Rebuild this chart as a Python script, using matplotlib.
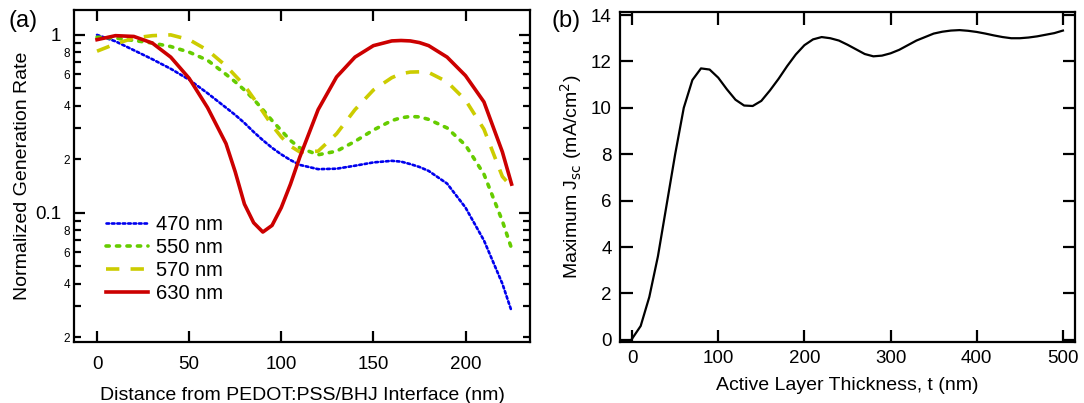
import matplotlib
matplotlib.use("Agg")
import matplotlib.pyplot as plt
from matplotlib.ticker import FixedLocator, FixedFormatter

plt.rcParams['font.family'] = ['Liberation Sans', 'DejaVu Sans']

# ---------------- data: panel (a) ----------------
distance_nm = [0, 10, 20, 30, 40, 50, 60, 70, 75, 80, 85, 90, 95, 100, 105, 110,
               120, 130, 140, 150, 160, 165, 170, 175, 180, 190, 200, 210, 220, 225]
gen_470 = [1.0, 0.92, 0.82, 0.73, 0.645, 0.56, 0.47, 0.39, 0.355, 0.32, 0.285, 0.256,
           0.232, 0.213, 0.198, 0.186, 0.176, 0.177, 0.184, 0.192, 0.196, 0.194, 0.188,
           0.181, 0.172, 0.146, 0.107, 0.07, 0.04, 0.028]
gen_550 = [0.97, 0.96, 0.93, 0.90, 0.86, 0.80, 0.72, 0.60, 0.545, 0.49, 0.435, 0.38,
           0.33, 0.29, 0.255, 0.232, 0.212, 0.222, 0.252, 0.292, 0.33, 0.342, 0.348,
           0.346, 0.335, 0.30, 0.24, 0.165, 0.09, 0.063]
gen_570 = [0.81, 0.89, 0.96, 0.99, 1.0, 0.94, 0.82, 0.67, 0.59, 0.52, 0.44, 0.37,
           0.31, 0.267, 0.237, 0.22, 0.222, 0.278, 0.38, 0.49, 0.575, 0.605, 0.618,
           0.62, 0.615, 0.545, 0.43, 0.295, 0.16, 0.14]
gen_630 = [0.94, 0.99, 0.98, 0.90, 0.75, 0.57, 0.39, 0.245, 0.17, 0.112, 0.088, 0.078,
           0.085, 0.107, 0.145, 0.205, 0.38, 0.58, 0.75, 0.87, 0.925, 0.93, 0.925,
           0.905, 0.87, 0.75, 0.59, 0.42, 0.22, 0.145]
series_labels = ["470 nm", "550 nm", "570 nm", "630 nm"]

# ---------------- data: panel (b) ----------------
thickness_nm = list(range(0, 501, 10))
jsc_max = [0.05, 0.6, 1.85, 3.6, 5.8, 8.0, 10.0, 11.2, 11.7, 11.65, 11.3, 10.8, 10.35,
           10.1, 10.08, 10.3, 10.75, 11.25, 11.8, 12.3, 12.7, 12.95, 13.05, 13.0, 12.9,
           12.72, 12.52, 12.32, 12.22, 12.25, 12.35, 12.5, 12.7, 12.9, 13.05, 13.2,
           13.28, 13.33, 13.35, 13.32, 13.27, 13.2, 13.12, 13.05, 13.0, 13.0, 13.03,
           13.08, 13.15, 13.22, 13.33]

W, H = 1084, 403
fig = plt.figure(figsize=(W / 100, H / 100), dpi=100)

TICK_FS = 13.5
LAB_FS = 14


def px_axes(l, t, r, b):
    return fig.add_axes([l / W, 1 - b / H, (r - l) / W, (b - t) / H])


# ---------------- panel (a) ----------------
ax = px_axes(74, 10, 530, 342)
ax.plot(distance_nm, gen_470, color='#0000ee', lw=1.9, linestyle=(0, (1, 1.05)),
        dash_capstyle='round', label=series_labels[0])
ax.plot(distance_nm, gen_550, color='#66cc00', lw=2.6, linestyle=(0, (0.9, 2.0)),
        dash_capstyle='round', label=series_labels[1])
ax.plot(distance_nm, gen_570, color='#cccc00', lw=2.6, linestyle=(0, (3.7, 3.1)),
        label=series_labels[2])
ax.plot(distance_nm, gen_630, color='#cc0000', lw=2.6, linestyle='-',
        label=series_labels[3])
ax.set_yscale('log')
ax.set_xlim(-12.5, 235)
ax.set_ylim(0.0188, 1.38)
ax.set_xticks([0, 50, 100, 150, 200])
ax.yaxis.set_major_locator(FixedLocator([0.1, 1]))
ax.yaxis.set_major_formatter(FixedFormatter(["0.1", "1"]))
minor_vals = [0.02, 0.03, 0.04, 0.05, 0.06, 0.07, 0.08, 0.09,
              0.2, 0.3, 0.4, 0.5, 0.6, 0.7, 0.8, 0.9]
minor_labs = ["2", "", "4", "", "6", "", "8", "",
              "2", "", "4", "", "6", "", "8", ""]
ax.yaxis.set_minor_locator(FixedLocator(minor_vals))
ax.yaxis.set_minor_formatter(FixedFormatter(minor_labs))
ax.xaxis.set_minor_locator(FixedLocator([]))
ax.tick_params(axis='both', which='major', direction='in', top=True, right=True,
               length=8, width=1.6, labelsize=TICK_FS)
ax.tick_params(axis='y', which='major', pad=9)
ax.tick_params(axis='x', which='major', pad=10)
ax.tick_params(axis='y', which='minor', direction='in', right=True, length=5,
               width=1.6, labelsize=8.5, pad=3)
for s in ax.spines.values():
    s.set_linewidth(1.6)
ax.set_xlabel("Distance from PEDOT:PSS/BHJ Interface (nm)", fontsize=LAB_FS, labelpad=10)
ax.set_ylabel("Normalized Generation Rate", fontsize=LAB_FS, labelpad=3)
leg = ax.legend(loc='upper left', bbox_to_anchor=(106 / W, 1 - 215 / H),
                bbox_transform=fig.transFigure, frameon=False, fontsize=14.5,
                handlelength=2.1, handletextpad=0.4, labelspacing=0.2,
                borderpad=0, borderaxespad=0)
fig.text(9 / W, 1 - 21 / H, "(a)", fontsize=17, va='center', ha='left')

# ---------------- panel (b) ----------------
bx = px_axes(620, 12, 1075, 342)
bx.plot(thickness_nm, jsc_max, color='black', lw=1.6)
bx.set_xlim(-14, 514)
bx.set_ylim(-0.09, 14.13)
bx.set_xticks([0, 100, 200, 300, 400, 500])
bx.set_yticks(list(range(0, 15, 2)))
bx.tick_params(axis='both', which='major', direction='in', top=True, right=True,
               length=9, width=1.6, labelsize=TICK_FS)
bx.tick_params(axis='y', pad=6)
bx.tick_params(axis='x', pad=6)
for s in bx.spines.values():
    s.set_linewidth(1.6)
bx.set_xlabel("Active Layer Thickness, t (nm)", fontsize=LAB_FS, labelpad=7)
bx.set_ylabel("Maximum J$_{\\mathrm{sc}}$ (mA/cm$^{\\mathrm{2}}$)", fontsize=LAB_FS, labelpad=5)
fig.text(551 / W, 1 - 21 / H, "(b)", fontsize=17, va='center', ha='left')

fig.savefig("out.png", dpi=100)
